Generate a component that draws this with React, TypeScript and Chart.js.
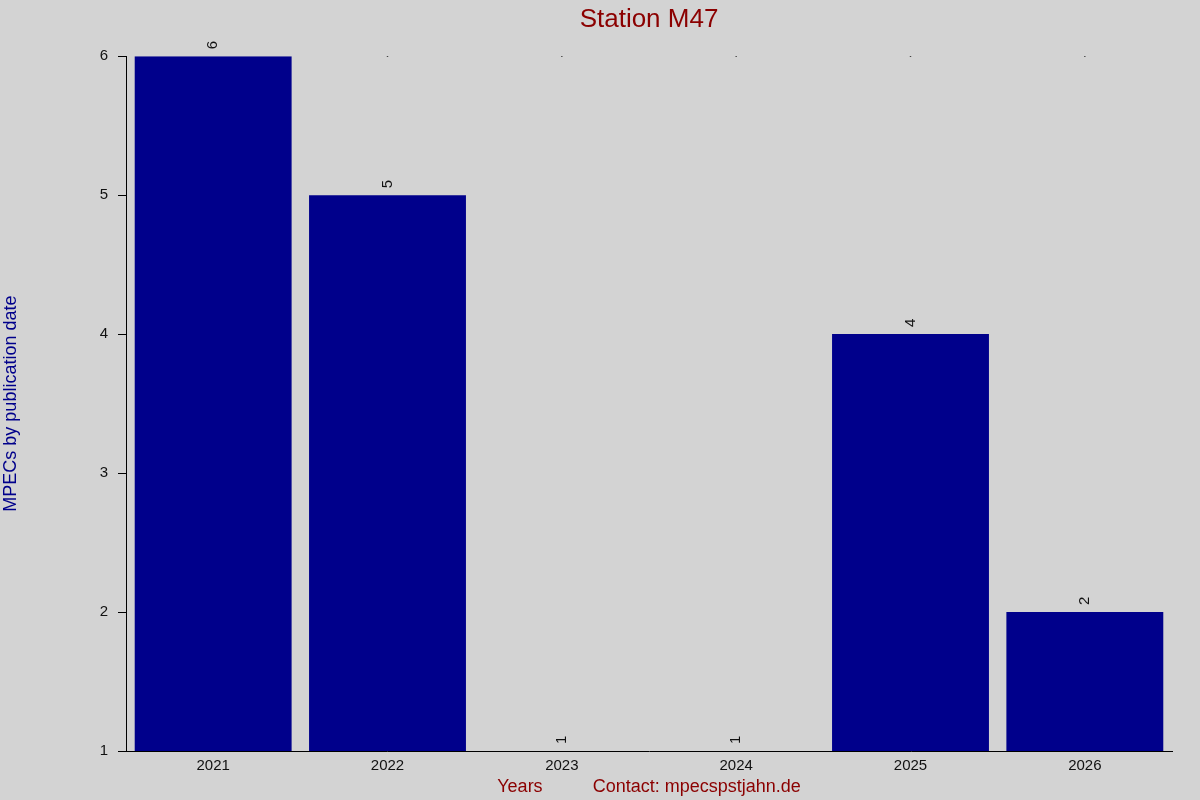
import { useEffect, useRef } from 'react';
import { Chart, registerables } from 'chart.js';

Chart.register(...registerables);

// Data
const years = ['2021', '2022', '2023', '2024', '2025', '2026'];
const counts = [6, 5, 1, 1, 4, 2];
const topMarks = [6, 6, 6, 6, 6, 6];

const FONT = 'Arial, "Liberation Sans", sans-serif';

// fills the whole canvas grey
const backgroundPlugin = {
  id: 'greyBackground',
  beforeDraw(chart: Chart) {
    const { ctx, width, height } = chart;
    ctx.save();
    ctx.fillStyle = '#d3d3d3';
    ctx.fillRect(0, 0, width, height);
    ctx.restore();
  },
};

// centre the title over the plot area instead of the whole canvas
const titleOverPlotPlugin = {
  id: 'titleOverPlot',
  afterLayout(chart: any) {
    const block = chart.titleBlock;
    if (!block) return;
    block.left = chart.chartArea.left;
    block.right = chart.chartArea.right;
  },
};

// rotated value labels above each bar
const valueLabelPlugin = {
  id: 'valueLabels',
  afterDatasetsDraw(chart: Chart) {
    const { ctx } = chart;
    const meta = chart.getDatasetMeta(0);
    ctx.save();
    ctx.font = `15px ${FONT}`;
    ctx.fillStyle = '#111';
    ctx.textAlign = 'left';
    ctx.textBaseline = 'middle';
    meta.data.forEach((bar, i) => {
      const { x, y } = bar.getProps(['x', 'y'], true);
      ctx.save();
      ctx.translate(x, y - 7);
      ctx.rotate(-Math.PI / 2);
      ctx.fillText(String(counts[i]), 0, 0);
      ctx.restore();
    });
    ctx.restore();
  },
};

const App = () => {
  const chartRef = useRef<HTMLCanvasElement>(null);
  const chartInstance = useRef<Chart | null>(null);

  useEffect(() => {
    document.body.style.margin = '0';
    if (!chartRef.current) return;
    if (chartInstance.current) chartInstance.current.destroy();
    const ctx = chartRef.current.getContext('2d');
    if (!ctx) return;

    chartInstance.current = new Chart(ctx, {
      type: 'bar',
      data: {
        labels: years,
        datasets: [
          {
            label: 'MPECs',
            data: counts,
            backgroundColor: '#00008b',
            categoryPercentage: 1,
            barPercentage: 0.9,
            order: 1,
          },
          {
            type: 'line',
            label: 'marks',
            data: topMarks,
            showLine: false,
            // the mark is hidden under a bar that reaches the top
            pointRadius: (c: any) => (counts[c.dataIndex] >= topMarks[c.dataIndex] ? 0 : 0.8),
            pointBackgroundColor: '#000',
            pointBorderWidth: 0,
            order: 2,
          } as any,
        ],
      },
      options: {
        animation: false,
        responsive: false,
        devicePixelRatio: 1,
        layout: { padding: { left: 0, right: 28, top: 0, bottom: 0 } },
        plugins: {
          legend: { display: false },
          tooltip: { enabled: false },
          title: {
            display: true,
            text: 'Station M47',
            color: '#8b0000',
            font: { family: FONT, size: 26, weight: 'normal' },
            padding: { top: 4, bottom: 21 },
          },
        },
        scales: {
          x: {
            grid: { display: false, drawTicks: false },
            border: { display: true, color: '#000', width: 1 },
            ticks: { color: '#111', font: { family: FONT, size: 15 }, padding: 6 },
            title: {
              display: true,
              text: 'Years          Contact: mpecspstjahn.de',
              color: '#8b0000',
              font: { family: FONT, size: 18 },
              padding: { top: 0, bottom: 2 },
            },
            afterFit: (s: any) => {
              s.height = 49;
            },
          },
          y: {
            min: 1,
            max: 6,
            grid: { drawOnChartArea: false, drawTicks: true, tickLength: 8, color: '#000' },
            border: { display: true, color: '#000', width: 1 },
            ticks: {
              stepSize: 1,
              color: '#111',
              font: { family: FONT, size: 15 },
              padding: 10,
            },
            title: {
              display: true,
              text: 'MPECs by publication date',
              color: '#00008b',
              font: { family: FONT, size: 18 },
              padding: { top: 0, bottom: 0 },
            },
            afterFit: (s: any) => {
              s.width = 126;
            },
          },
        },
      },
      plugins: [backgroundPlugin, titleOverPlotPlugin, valueLabelPlugin],
    });

    return () => {
      if (chartInstance.current) {
        chartInstance.current.destroy();
        chartInstance.current = null;
      }
    };
  }, []);

  return (
    <div style={{ width: 1200, height: 800, background: '#d3d3d3' }}>
      <canvas ref={chartRef} width={1200} height={800} />
    </div>
  );
};

export default App;
